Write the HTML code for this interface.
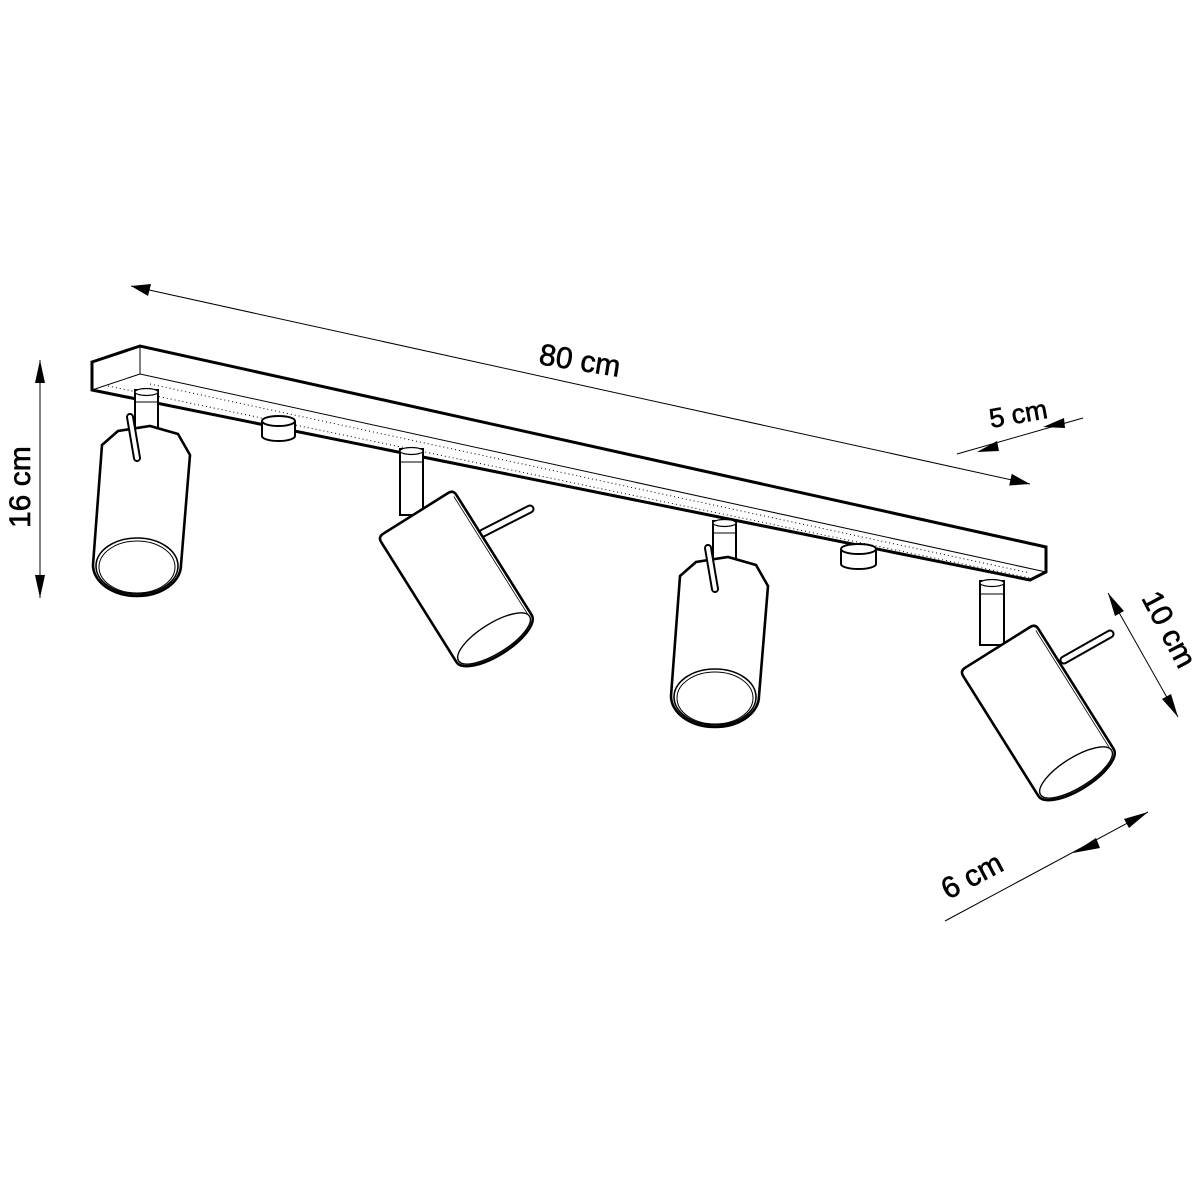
<!DOCTYPE html>
<html><head><meta charset="utf-8"><style>
html,body{margin:0;padding:0;background:#fff;}
svg{display:block;}
text{font-family:"Liberation Sans",Arial,sans-serif;fill:#000;stroke:#000;stroke-width:0.6;}
</style></head><body>
<svg width="1200" height="1200" viewBox="0 0 1200 1200" xmlns="http://www.w3.org/2000/svg">
<defs>
<marker id="ah" viewBox="0 0 10 6" refX="10" refY="3" markerWidth="22" markerHeight="12" markerUnits="userSpaceOnUse" orient="auto"><path d="M0,0 L10,3 L0,6 Z" fill="#000"/></marker>
<g id="vspot" fill="#fff" stroke="#000">
  <rect x="135" y="390" width="23" height="42" stroke-width="2"/>
  <ellipse cx="146.5" cy="392" rx="11.5" ry="3.5" stroke-width="1.2"/>
  <line x1="135" y1="402" x2="158" y2="402" stroke-width="1"/>
  <path d="M102,445 L118,431 L150,426 L178,434 L190,455 L181,565 A44,31 0 0 1 93,565 Z" stroke-width="2.6"/>
  <ellipse cx="137" cy="566" rx="41" ry="28" stroke-width="1.6"/>
  <ellipse cx="137" cy="567" rx="38" ry="26" stroke-width="1"/>
  <line x1="130" y1="417" x2="137" y2="458" stroke-width="8" stroke-linecap="round"/>
  <line x1="130" y1="417" x2="137" y2="458" stroke="#fff" stroke-width="4" stroke-linecap="round"/>
</g>
</defs>

<!-- 80 cm dimension -->
<line x1="131" y1="286" x2="1030" y2="484" stroke="#000" stroke-width="1" marker-end="url(#ah)"/>
<path d="M131,286 L151,284 L148,296 Z" fill="#000"/>
<text x="0" y="0" font-size="30" transform="translate(538,364) rotate(9)">80 cm</text>

<!-- bar -->
<g fill="none" stroke="#000">
  <path d="M92,362 L140,346 L1046,547 L1046,572 L1030,580 L92,390 Z" fill="#fff" stroke-width="3"/>
  <line x1="140" y1="346" x2="140" y2="374" stroke-width="1"/>
  <line x1="92" y1="390" x2="140" y2="374" stroke-width="1"/>
  <line x1="140" y1="374" x2="1046" y2="572" stroke-width="1"/>
  <line x1="108" y1="386" x2="1030" y2="578" stroke-width="1" stroke-dasharray="1 3"/>
  <line x1="150" y1="384" x2="1030" y2="573" stroke-width="1" stroke-dasharray="1 3"/>
</g>

<!-- mounting discs -->
<g fill="#fff" stroke="#000" stroke-width="2">
  <path d="M262,421 L262,436 A16.5,5 0 0 0 295,436 L295,421"/>
  <ellipse cx="278.5" cy="421" rx="16.5" ry="5"/>
  <path d="M841,549 L841,564 A17.5,5 0 0 0 876,564 L876,549"/>
  <ellipse cx="858.5" cy="549" rx="17.5" ry="5"/>
</g>

<use href="#vspot"/>
<use href="#vspot" transform="translate(578,131)"/>

<!-- tilted spot 2 -->
<g fill="#fff" stroke="#000">
  <rect x="400" y="449" width="23" height="66" stroke-width="2"/>
  <ellipse cx="411.5" cy="451" rx="11.5" ry="3.5" stroke-width="1.2"/>
  <line x1="400" y1="462" x2="423" y2="462" stroke-width="1"/>
  <line x1="483" y1="533" x2="530" y2="509" stroke-width="9" stroke-linecap="round"/>
  <line x1="483" y1="533" x2="530" y2="509" stroke="#fff" stroke-width="5" stroke-linecap="round"/>
  <g transform="matrix(0.845,-0.53,0.53,0.845,378,537)">
    <path d="M0,6 Q0,0 6,0 L83,0 Q89,0 89,6 L89,148 A44.5,17 0 0 1 0,148 Z" stroke-width="2.6"/>
    <ellipse cx="44.5" cy="148" rx="42" ry="15" stroke-width="1.4"/>
    <line x1="86" y1="6" x2="86" y2="145" stroke-width="0.8"/>
  </g>
</g>

<!-- tilted spot 4 -->
<g fill="#fff" stroke="#000">
  <rect x="980" y="581" width="24" height="64" stroke-width="2"/>
  <ellipse cx="992" cy="583" rx="12" ry="3.5" stroke-width="1.2"/>
  <line x1="980" y1="594" x2="1004" y2="594" stroke-width="1"/>
  <line x1="1064" y1="660" x2="1110" y2="634" stroke-width="9" stroke-linecap="round"/>
  <line x1="1064" y1="660" x2="1110" y2="634" stroke="#fff" stroke-width="5" stroke-linecap="round"/>
  <g transform="matrix(0.845,-0.53,0.53,0.845,960,671)">
    <path d="M0,6 Q0,0 6,0 L83,0 Q89,0 89,6 L89,148 A44.5,17 0 0 1 0,148 Z" stroke-width="2.6"/>
    <ellipse cx="44.5" cy="148" rx="42" ry="15" stroke-width="1.4"/>
    <line x1="86" y1="6" x2="86" y2="145" stroke-width="0.8"/>
  </g>
</g>

<!-- 5 cm -->
<line x1="957" y1="454" x2="1083" y2="418" stroke="#000" stroke-width="1"/>
<path d="M977,452 L997,441 L999,451 Z" fill="#000"/>
<path d="M1043,427 L1064,418 L1065,428 Z" fill="#000"/>
<text x="0" y="0" font-size="27" transform="translate(991,428) rotate(-10)">5 cm</text>

<!-- 16 cm -->
<line x1="40" y1="360" x2="40" y2="598" stroke="#000" stroke-width="1"/>
<path d="M40,360 L35,383 L45,383 Z" fill="#000"/>
<path d="M40,598 L35,575 L45,575 Z" fill="#000"/>
<text x="0" y="0" font-size="30" transform="translate(30,528) rotate(-90)">16 cm</text>

<!-- 10 cm -->
<line x1="1108" y1="593" x2="1178" y2="717" stroke="#000" stroke-width="1"/>
<path d="M1108,593 L1124,611 L1115,616 Z" fill="#000"/>
<path d="M1178,717 L1162,699 L1171,694 Z" fill="#000"/>
<text x="0" y="0" font-size="30" transform="translate(1141,598) rotate(62)">10 cm</text>

<!-- 6 cm -->
<line x1="945" y1="921" x2="1148" y2="812" stroke="#000" stroke-width="1"/>
<path d="M1148,812 L1129,828 L1124,819 Z" fill="#000"/>
<path d="M1073,853 L1096,838 L1100,848 Z" fill="#000"/>
<text x="0" y="0" font-size="30" transform="translate(948,900) rotate(-28)">6 cm</text>
</svg>
</body></html>
